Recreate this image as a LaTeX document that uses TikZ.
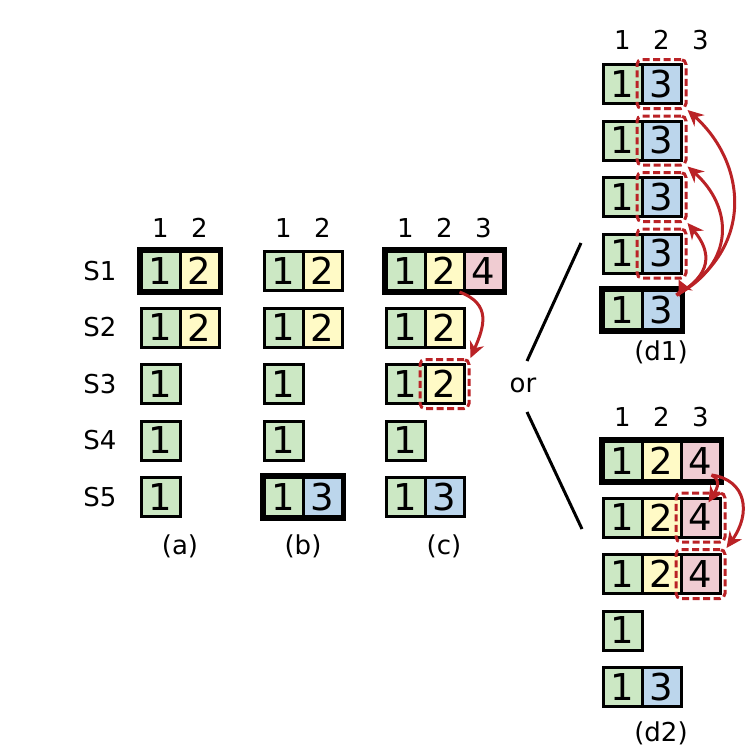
\documentclass[tikz,border=0pt]{standalone}
\usepackage{fontspec}
\setmainfont{DejaVu Sans}
\usetikzlibrary{arrows.meta, positioning}
\definecolor{term1}{RGB}{204,232,196}
\definecolor{term2}{RGB}{255,250,198}
\definecolor{term3}{RGB}{188,214,236}
\definecolor{term4}{RGB}{240,204,210}
\definecolor{newred}{RGB}{186,34,38}

\tikzset{
  entry/.style={draw, line width=3pt, minimum width=39pt, minimum height=39pt,
    inner sep=0pt, font=\fontsize{37}{37}\selectfont},
  lbl/.style={font=\fontsize{26}{26}\selectfont, inner sep=0pt},
  leader/.style={line width=5.5pt},
  newbox/.style={draw=newred, line width=3pt, dash pattern=on 7pt off 3.5pt,
    rounded corners=5pt, minimum width=49pt, minimum height=49pt},
  push/.style={-{Stealth[length=16pt,width=15pt]}, draw=newred, line width=3pt}
}

\begin{document}
\begin{tikzpicture}[x=1pt, y=-1pt]
\useasboundingbox (0,0) rectangle (754,755);

% server names and indexes
\foreach \r in {1,...,5} \node[lbl] (s\r) at (100,{271+56.5*(\r-1)}) {S\r};
\foreach \i in {1,2} \node[lbl] (ha\i) at ({141+39*\i-19.5},228) {\i};
\foreach \i in {1,2} \node[lbl] (hb\i) at ({264+39*\i-19.5},228) {\i};
\foreach \i in {1,2,3} \node[lbl] (hc\i) at ({386+39*\i-19.5},228) {\i};
\foreach \i in {1,2,3} \node[lbl] (hd\i) at ({603+39*\i-19.5},40) {\i};
\foreach \i in {1,2,3} \node[lbl] (he\i) at ({603+39*\i-19.5},417) {\i};

% (a)
\foreach \r/\i/\t in {1/1/1, 1/2/2, 2/1/1, 2/2/2, 3/1/1, 4/1/1, 5/1/1}
  \node[entry, fill=term\t] (a\r\i) at ({141+39*\i-19.5},{271+56.5*(\r-1)}) {\t};
\draw[leader] (a11.north west) rectangle (a12.south east);
\node[lbl] (capa) at (180,546) {(a)};

% (b)
\foreach \r/\i/\t in {1/1/1, 1/2/2, 2/1/1, 2/2/2, 3/1/1, 4/1/1, 5/1/1, 5/2/3}
  \node[entry, fill=term\t] (b\r\i) at ({264+39*\i-19.5},{271+56.5*(\r-1)}) {\t};
\draw[leader] (b51.north west) rectangle (b52.south east);
\node[lbl] (capb) at (303,546) {(b)};

% (c)
\foreach \r/\i/\t in {1/1/1, 1/2/2, 1/3/4, 2/1/1, 2/2/2, 3/1/1, 3/2/2, 4/1/1, 5/1/1, 5/2/3}
  \node[entry, fill=term\t] (c\r\i) at ({386+39*\i-19.5},{271+56.5*(\r-1)}) {\t};
\draw[leader] (c11.north west) rectangle (c13.south east);
\node[newbox] (cnew) at (c32) {};
\draw[push] ([xshift=-6pt]c12.south east) .. controls +(32,12) and +(14,-32) .. (cnew.north east);
\node[lbl] (capc) at (444,546) {(c)};

% or
\node[lbl] (or) at (523,385) {or};
\coordinate (orup) at (527,361);
\coordinate (ordown) at (527,412);
\coordinate (d1in) at (581,243);
\coordinate (d2in) at (582,529);
\draw[line width=3pt] (orup) -- (d1in);
\draw[line width=3pt] (ordown) -- (d2in);

% (d1)
\foreach \r in {1,...,5} {
  \node[entry, fill=term1] (d\r1) at ({603+19.5},{84+56.5*(\r-1)}) {1};
  \node[entry, fill=term3] (d\r2) at ({603+58.5},{84+56.5*(\r-1)}) {3};
}
\draw[leader] (d51.north west) rectangle (d52.south east);
\foreach \r in {1,...,4} \node[newbox] (dnew\r) at (d\r2) {};
\coordinate (dfrom) at ([xshift=-6pt,yshift=-6pt]d52.north east);
\draw[push] (dfrom) .. controls +(80,-47) and +(58,52) .. (dnew1.south east);
\draw[push] (dfrom) .. controls +(60,-32) and +(45,40) .. (dnew2.south east);
\draw[push] (dfrom) .. controls +(35,-20) and +(25,30) .. (dnew3.south east);
\draw[push] (dfrom) .. controls +(8,-8) and +(4,8) .. ([xshift=-9pt]dnew4.south east);
\node[lbl] (capd1) at (661,352) {(d1)};

% (d2)
\foreach \r/\i/\t in {1/1/1, 1/2/2, 1/3/4, 2/1/1, 2/2/2, 2/3/4, 3/1/1, 3/2/2, 3/3/4, 4/1/1, 5/1/1, 5/2/3}
  \node[entry, fill=term\t] (e\r\i) at ({603+39*\i-19.5},{461+56.5*(\r-1)}) {\t};
\draw[leader] (e11.north west) rectangle (e13.south east);
\node[newbox] (enew2) at (e23) {};
\node[newbox] (enew3) at (e33) {};
\coordinate (efrom) at ([xshift=-10pt,yshift=7pt]e13.south east);
\draw[push] (efrom) .. controls +(12,6) and +(6,-10) .. ([xshift=-13pt,yshift=-6pt]e23.north east);
\draw[push] (efrom) .. controls +(35,5) and +(25,-35) .. (enew3.north east);
\node[lbl] (capd2) at (661,733) {(d2)};
\end{tikzpicture}
\end{document}
